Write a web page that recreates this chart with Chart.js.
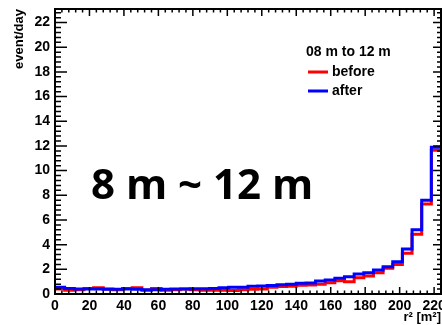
<!DOCTYPE html>
<html>
<head>
<meta charset="utf-8">
<script src="https://cdn.jsdelivr.net/npm/chart.js@4/dist/chart.umd.min.js"></script>
<style>
  html, body { margin: 0; padding: 0; background: #fff; }
  #wrap { width: 442px; height: 325px; }
</style>
</head>
<body>
<div id="wrap"><canvas id="myChart" width="442" height="325"></canvas></div>
<script>
// r^2 distribution, 40 bins of 5.6 m^2 from 0 to 224
var binWidth = 5.6;
var beforeRate = [0.40, 0.30, 0.35, 0.45, 0.50, 0.40, 0.35, 0.45, 0.50, 0.30,
                  0.45, 0.30, 0.35, 0.40, 0.35, 0.30, 0.30, 0.30, 0.28, 0.35,
                  0.38, 0.40, 0.55, 0.60, 0.62, 0.70, 0.73, 0.80, 0.92, 1.08,
                  1.00, 1.32, 1.46, 1.72, 2.08, 2.40, 3.30, 4.85, 7.30, 11.65];
var afterRate  = [0.55, 0.45, 0.40, 0.40, 0.40, 0.38, 0.38, 0.40, 0.38, 0.35,
                  0.35, 0.38, 0.40, 0.40, 0.42, 0.42, 0.45, 0.50, 0.55, 0.55,
                  0.62, 0.65, 0.68, 0.75, 0.80, 0.88, 0.90, 1.05, 1.13, 1.27,
                  1.40, 1.62, 1.72, 1.94, 2.21, 2.61, 3.65, 5.20, 7.60, 11.90];
var seriesNames = ['before', 'after'];
var seriesColors = ['#ff0000', '#0000ff'];

var xRange = [0, 224];
var yRange = [0, 23.1];
var xStep = 20, xMinorStep = 4;
var yStep = 2, yMinorStep = 0.4;

var legendHeader = '08 m to 12 m';
var regionLabel = '8 m ~ 12 m';

var labelFont = 'Liberation Sans, Arial, sans-serif';

// histogram -> points on bin low edges, last one closes the final bin
function toSteps(values) {
    var pts = [];
    for (var i = 0; i < values.length; i++) {
        pts.push({x: i * binWidth, y: values[i]});
    }
    pts.push({x: values.length * binWidth, y: values[values.length - 1]});
    return pts;
}

/**
 * ticks on one side of the frame, pointing into the plot
 */
function sideTicks(ctx, scale, min, max, step, minorStep, majorLen, minorLen, draw) {
    var n = Math.round((max - min) / minorStep);
    var ratio = Math.round(step / minorStep);
    for (var i = 0; i <= n; i++) {
        var v = min + i * minorStep;
        if (v > max + 1e-9) break;
        var p = scale.getPixelForValue(v);
        draw(p, i % ratio === 0 ? majorLen : minorLen);
    }
}

// frame box + root style ticks on all four sides
var frameTicks = {
    id: 'frameTicks',
    afterDraw: function (chart) {
        var ctx = chart.ctx, a = chart.chartArea;
        var xs = chart.scales.x, ys = chart.scales.y;
        ctx.save();
        ctx.strokeStyle = '#000';
        ctx.lineWidth = 1.5;
        ctx.beginPath();
        sideTicks(ctx, ys, yRange[0], yRange[1], yStep, yMinorStep, 12, 6, function (p, len) {
            ctx.moveTo(a.left, p); ctx.lineTo(a.left + len, p);
        });
        sideTicks(ctx, ys, yRange[0], yRange[1], yStep, yMinorStep, 8, 4, function (p, len) {
            ctx.moveTo(a.right, p); ctx.lineTo(a.right - len, p);
        });
        sideTicks(ctx, xs, xRange[0], xRange[1], xStep, xMinorStep, 7, 3.5, function (p, len) {
            ctx.moveTo(p, a.bottom); ctx.lineTo(p, a.bottom - len);
        });
        sideTicks(ctx, xs, xRange[0], xRange[1], xStep, xMinorStep, 7, 3.5, function (p, len) {
            ctx.moveTo(p, a.top); ctx.lineTo(p, a.top + len);
        });
        ctx.stroke();
        ctx.lineWidth = 2;
        ctx.strokeRect(a.left, a.top, a.right - a.left, a.bottom - a.top);
        ctx.restore();
    }
};

// legend box (no border) and the big region label
var legendAndLabel = {
    id: 'legendAndLabel',
    afterDraw: function (chart) {
        var ctx = chart.ctx;
        ctx.save();
        ctx.fillStyle = '#000';
        ctx.textBaseline = 'middle';
        ctx.textAlign = 'left';
        ctx.font = 'bold 14px ' + labelFont;
        ctx.fillText(legendHeader, 306, 52);

        chart.data.datasets.forEach(function (ds, i) {
            var y = 72 + i * 19;
            ctx.strokeStyle = ds.borderColor;
            ctx.lineWidth = 3;
            ctx.beginPath();
            ctx.moveTo(308, y);
            ctx.lineTo(328, y);
            ctx.stroke();
            ctx.fillText(ds.label, 332, y);
        });

        ctx.font = 'bold 42px "Open Sans", sans-serif';
        ctx.fillText(regionLabel, 91, 187);
        ctx.restore();
    }
};

var ctx = document.getElementById('myChart').getContext('2d');
var chart = new Chart(ctx, {
    type: 'line',
    data: {
        datasets: [{
            label: seriesNames[0],
            data: toSteps(beforeRate),
            borderColor: seriesColors[0],
            borderWidth: 3,
            stepped: 'before',
            pointRadius: 0,
            fill: false,
            order: 1
        }, {
            label: seriesNames[1],
            data: toSteps(afterRate),
            borderColor: seriesColors[1],
            borderWidth: 3,
            stepped: 'before',
            pointRadius: 0,
            fill: false,
            order: 0
        }]
    },
    options: {
        responsive: false,
        animation: false,
        layout: {padding: {top: 9, right: 1, left: 0, bottom: 0}},
        plugins: {
            legend: {display: false},
            tooltip: {enabled: false}
        },
        scales: {
            x: {
                type: 'linear',
                min: xRange[0],
                max: xRange[1],
                grid: {display: false, drawTicks: false, tickLength: 0},
                border: {display: false},
                ticks: {
                    stepSize: xStep,
                    includeBounds: false,
                    autoSkip: false,
                    maxRotation: 0,
                    padding: 4,
                    color: '#000',
                    font: {family: labelFont, size: 14, weight: 'bold'}
                },
                title: {
                    display: true,
                    text: 'r\u00B2 [m\u00B2]',
                    align: 'end',
                    color: '#000',
                    padding: {top: 0, bottom: 0},
                    font: {family: labelFont, size: 13, weight: 'bold'}
                },
                afterFit: function (s) {
                    s.height = 31;
                    // let the last label run off the edge instead of shrinking the plot
                    s.paddingLeft = 0;
                    s.paddingRight = 0;
                }
            },
            y: {
                min: yRange[0],
                max: yRange[1],
                grid: {display: false, drawTicks: false, tickLength: 0},
                border: {display: false},
                ticks: {
                    stepSize: yStep,
                    includeBounds: false,
                    padding: 5,
                    color: '#000',
                    font: {family: labelFont, size: 14, weight: 'bold'}
                },
                title: {
                    display: true,
                    text: 'event/day',
                    align: 'end',
                    color: '#000',
                    padding: {top: 12, bottom: 0},
                    font: {family: labelFont, size: 13, weight: 'bold'}
                },
                afterFit: function (s) {
                    s.width = 55;
                    s.paddingTop = 0;
                    s.paddingBottom = 0;
                }
            }
        }
    },
    plugins: [frameTicks, legendAndLabel]
});
</script>
</body>
</html>
